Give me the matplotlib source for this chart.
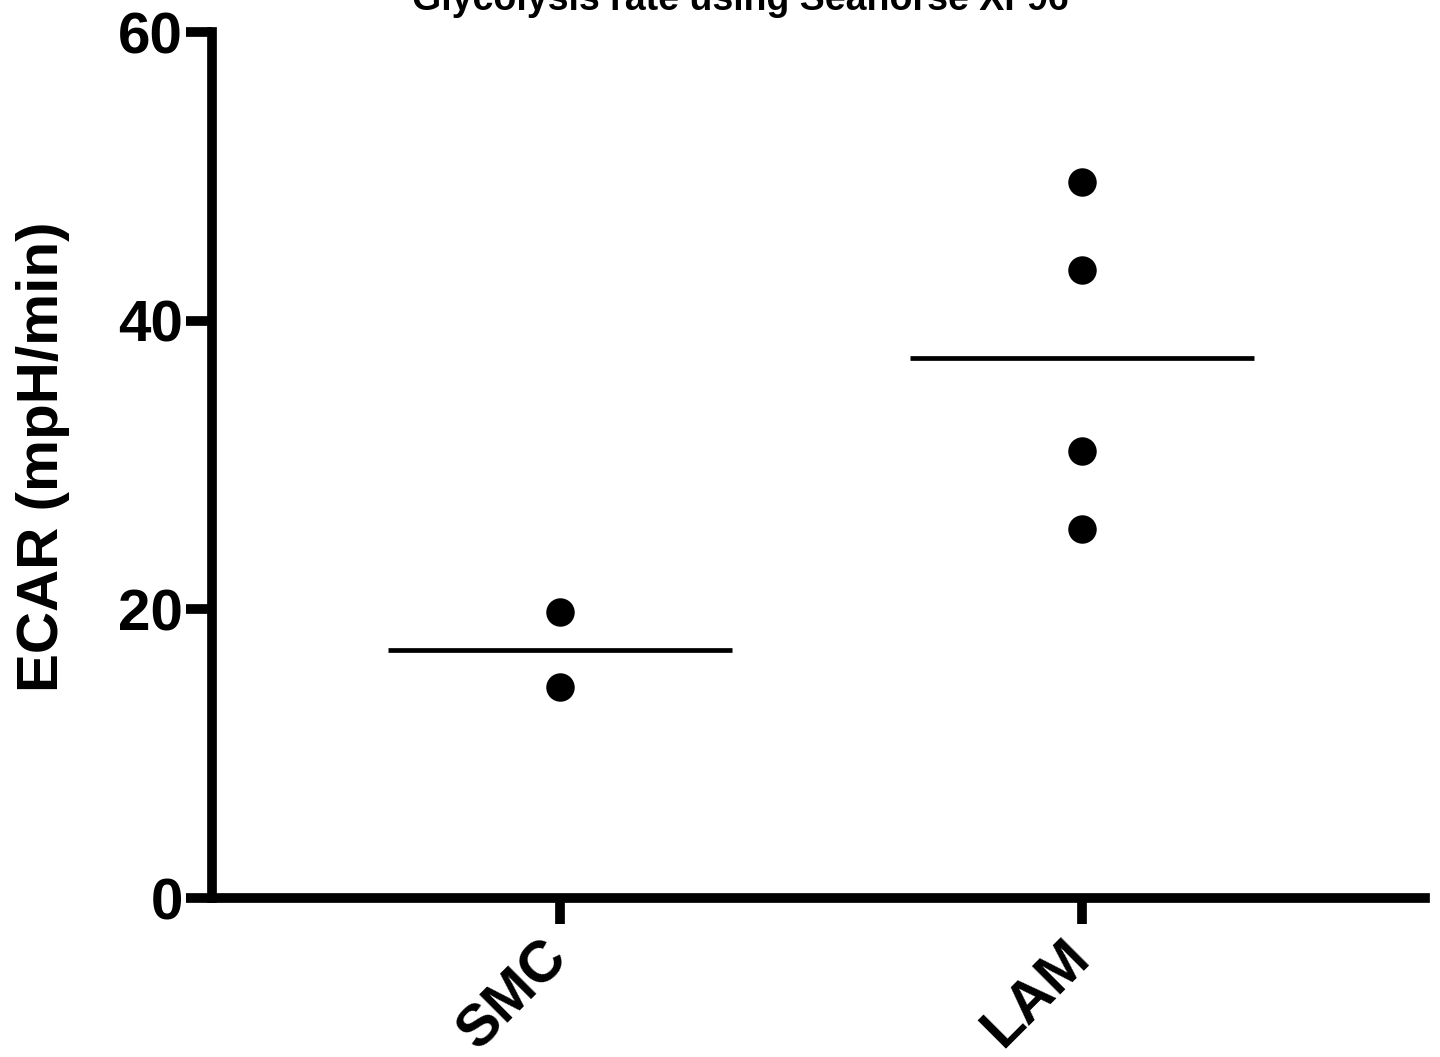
import matplotlib.pyplot as plt
import matplotlib.transforms as mtransforms
import numpy as np

plt.rcParams['font.family'] = ['Liberation Sans', 'DejaVu Sans']
plt.rcParams['font.weight'] = 'bold'

groups = ['SMC', 'LAM']
smc_values = [19.8, 14.6]
lam_values = [49.6, 43.5, 31.0, 25.6]
all_values = [smc_values, lam_values]

fig = plt.figure(figsize=(14.4, 10.57), dpi=100)
ax = fig.add_axes([0.1472, 0.1504, 0.8424, 0.8193])

for i, vals in enumerate(all_values):
    x = i + 1
    ax.scatter([x] * len(vals), vals, s=420, color='black', zorder=3, linewidths=0)
    m = np.mean(vals)
    ax.plot([x - 0.33, x + 0.33], [m, m], color='black', lw=3.4, solid_capstyle='butt')

ax.set_xlim(0.333, 2.657)
ax.set_ylim(0, 60)
ax.set_yticks([0, 20, 40, 60])
ax.set_xticks([1, 2])
ax.set_xticklabels(groups, rotation=45, ha='right', rotation_mode='anchor')

for s in ['top', 'right']:
    ax.spines[s].set_visible(False)
for s in ['left', 'bottom']:
    ax.spines[s].set_linewidth(7)
    ax.spines[s].set_capstyle('projecting')

ax.tick_params(axis='both', width=7, length=19, labelsize=42, pad=2)
ax.tick_params(axis='x', pad=12)

# nudge the rotated category labels left/up
offset = mtransforms.ScaledTranslation(-0.2, 0.11, fig.dpi_scale_trans)
for lbl in ax.get_xticklabels():
    lbl.set_transform(lbl.get_transform() + offset)

ax.set_ylabel('ECAR (mpH/min)', fontsize=42, fontweight='bold')
ax.yaxis.set_label_coords(-0.117, 0.51)

fig.text(740 / 1440, 1 - 10 / 1057, 'Glycolysis rate using Seahorse XF96',
         ha='center', va='baseline', fontsize=27, fontweight='bold')

fig.savefig('out.png', dpi=100)
